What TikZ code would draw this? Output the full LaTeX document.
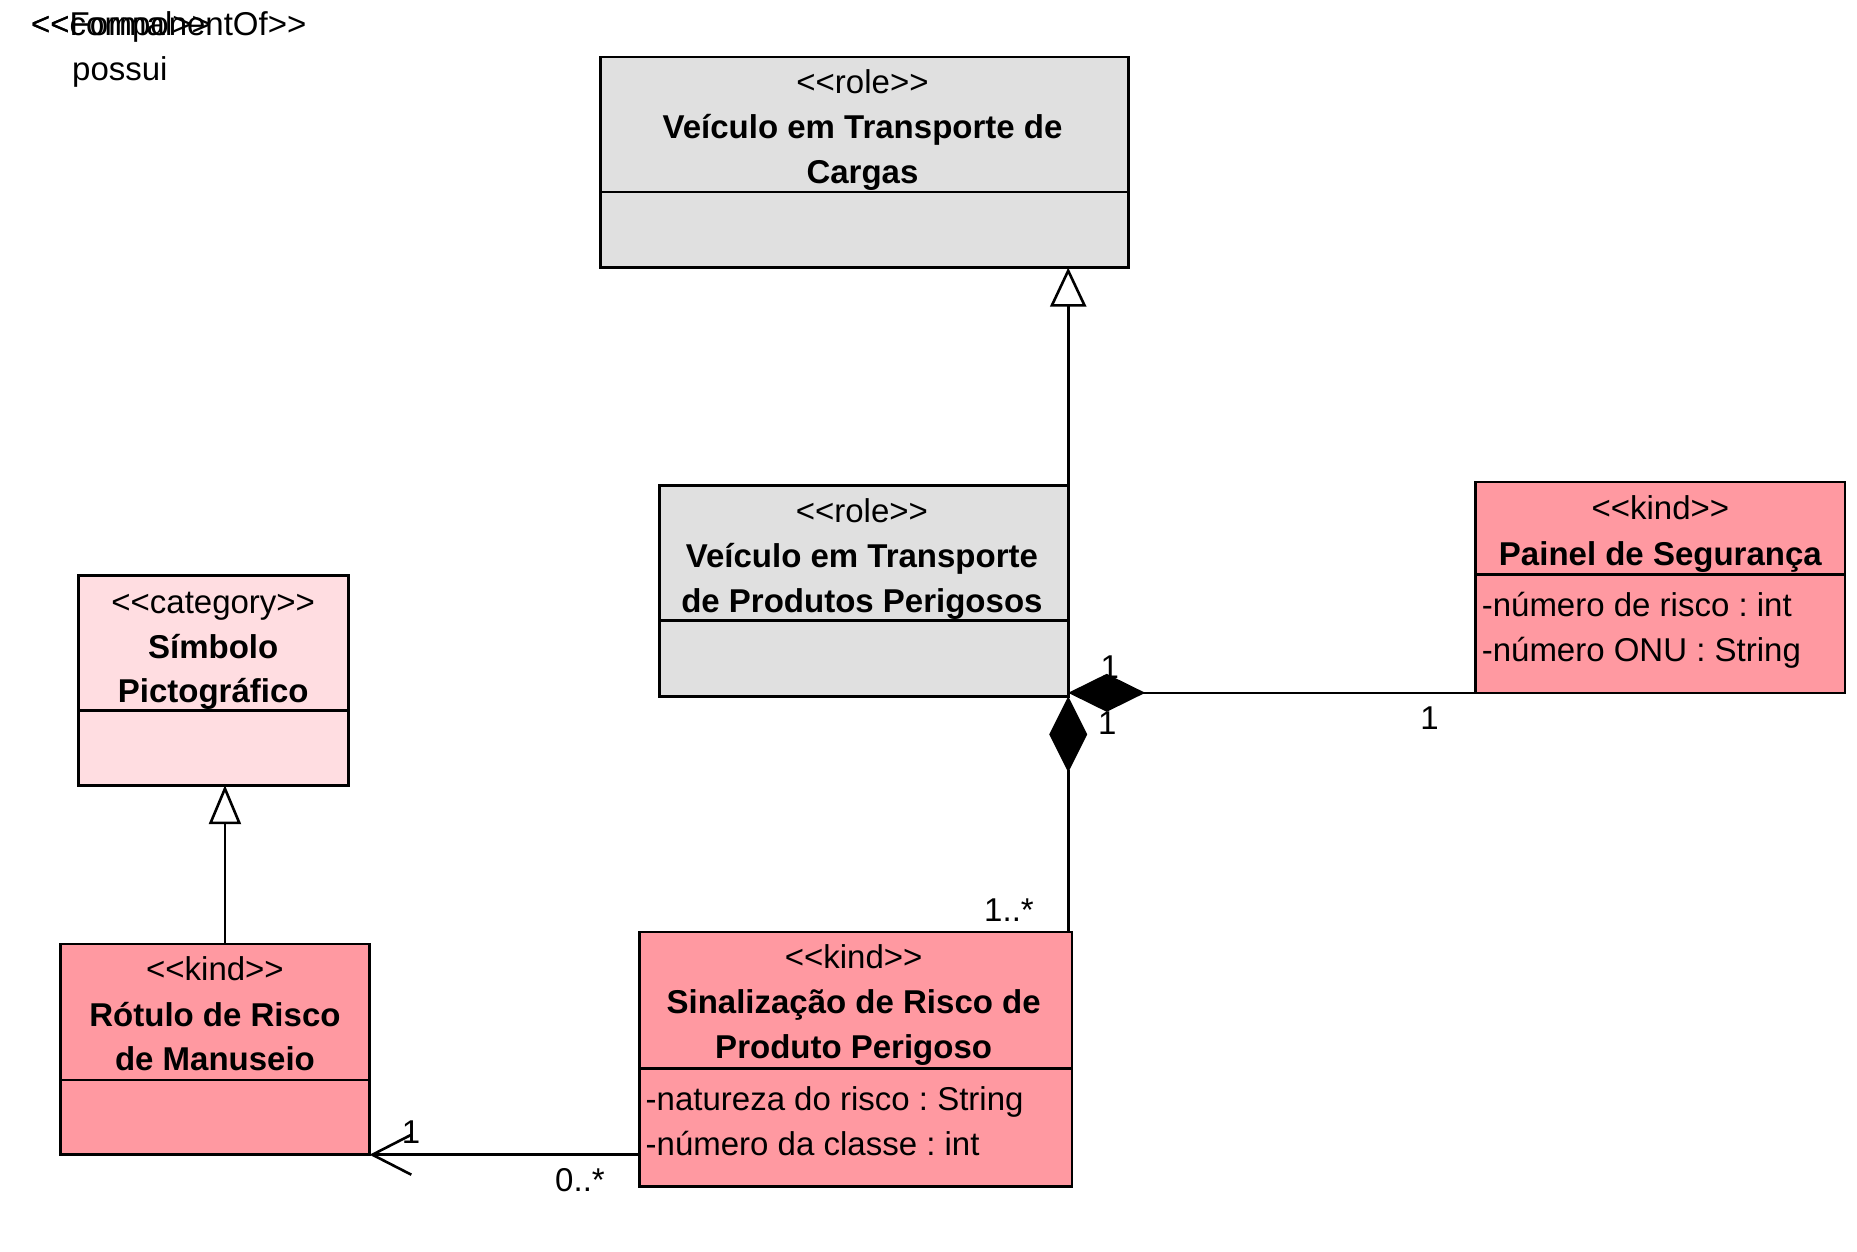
\documentclass[tikz,border=0pt]{standalone}
\usepackage{fontspec}
\setmainfont{Liberation Sans}
\usetikzlibrary{arrows.meta}
\definecolor{grayc}{RGB}{224,224,224}
\definecolor{kindc}{RGB}{255,153,161}
\definecolor{catc}{RGB}{255,221,225}
\newcommand\fs{\fontsize{33}{45}\selectfont\frenchspacing}
\newcommand\stp[1]{<{}<#1>{}>}
\tikzset{
  cls/.style={draw, line width=2.6pt, inner sep=0pt, outer sep=0pt, anchor=north west},
  txt/.style={inner sep=0pt, anchor=base, font=\fs},
  btxt/.style={inner sep=0pt, anchor=base, font=\fs\bfseries},
  attr/.style={inner sep=0pt, anchor=base west, font=\fs},
  conn/.style={line width=2.6pt},
}
\begin{document}
\begin{tikzpicture}[x=1pt,y=-1pt]
\useasboundingbox (0,0) rectangle (1857,1251);
% Box A
\node[cls, fill=grayc, minimum width=528.2pt, minimum height=210.8pt] (A) at (600.4,56.8) {};
\draw[conn] ([yshift=-135.1pt]A.north west) -- ([yshift=-135.1pt]A.north east);
\node[txt] (A1) at ([xshift=-2pt,yshift=-37pt]A.north) {\stp{role}};
\node[btxt] (A2) at ([xshift=-2pt,yshift=-82pt]A.north) {Veículo em Transporte de};
\node[btxt] (A3) at ([xshift=-2pt,yshift=-127pt]A.north) {Cargas};
% Box B
\node[cls, fill=grayc, minimum width=408.6pt, minimum height=210.8pt] (B) at (659.6,485.6) {};
\draw[conn] ([yshift=-135pt]B.north west) -- ([yshift=-135pt]B.north east);
\node[txt] (B1) at ([xshift=-2pt,yshift=-37pt]B.north) {\stp{role}};
\node[btxt] (B2) at ([xshift=-2pt,yshift=-82pt]B.north) {Veículo em Transporte};
\node[btxt] (B3) at ([xshift=-2pt,yshift=-127pt]B.north) {de Produtos Perigosos};
% Box C
\node[cls, fill=kindc, minimum width=369.5pt, minimum height=210.8pt] (C) at (1475.6,482) {};
\draw[conn] ([yshift=-92.4pt]C.north west) -- ([yshift=-92.4pt]C.north east);
\node[txt] (C1) at ([yshift=-37pt]C.north) {\stp{kind}};
\node[btxt] (C2) at ([yshift=-83pt]C.north) {Painel de Segurança};
\node[attr] (C3) at ([xshift=6pt,yshift=-134.4pt]C.north west) {-número de risco : int};
\node[attr] (C4) at ([xshift=6pt,yshift=-179.4pt]C.north west) {-número ONU : String};
% Box D
\node[cls, fill=catc, minimum width=270pt, minimum height=209.6pt] (D) at (78.2,575.6) {};
\draw[conn] ([yshift=-135pt]D.north west) -- ([yshift=-135pt]D.north east);
\node[txt] (D1) at ([yshift=-37.5pt]D.north) {\stp{category}};
\node[btxt] (D2) at ([yshift=-82.5pt]D.north) {Símbolo};
\node[btxt] (D3) at ([yshift=-127pt]D.north) {Pictográfico};
% Box E
\node[cls, fill=kindc, minimum width=309.1pt, minimum height=210.8pt] (E) at (60.4,943.9) {};
\draw[conn] ([yshift=-136.2pt]E.north west) -- ([yshift=-136.2pt]E.north east);
\node[txt] (E1) at ([yshift=-37pt]E.north) {\stp{kind}};
\node[btxt] (E2) at ([yshift=-83pt]E.north) {Rótulo de Risco};
\node[btxt] (E3) at ([yshift=-127pt]E.north) {de Manuseio};
% Box F
\node[cls, fill=kindc, minimum width=432.3pt, minimum height=254.7pt] (F) at (639.5,932) {};
\draw[conn] ([yshift=-136.2pt]F.north west) -- ([yshift=-136.2pt]F.north east);
\node[txt] (F1) at ([xshift=-2pt,yshift=-36pt]F.north) {\stp{kind}};
\node[btxt] (F2) at ([xshift=-2pt,yshift=-81.5pt]F.north) {Sinalização de Risco de};
\node[btxt] (F3) at ([xshift=-2pt,yshift=-126.5pt]F.north) {Produto Perigoso};
\node[attr] (F4) at ([xshift=6pt,yshift=-178.8pt]F.north west) {-natureza do risco : String};
\node[attr] (F5) at ([xshift=6pt,yshift=-223.8pt]F.north west) {-número da classe : int};
% connectors
\draw[conn, -{Triangle[open,length=39pt,width=36pt]}] (B.north east) -- (B.north east |- A.south);
\coordinate (eTop) at ([xshift=10pt]E.north);
\draw[conn, -{Triangle[open,length=39pt,width=32pt]}] (eTop) -- (eTop |- D.south);
\draw[conn, {Diamond[length=77pt,width=38pt]}-] (B.east |- C.south) -- (C.south west);
\draw[conn, {Diamond[length=76pt,width=38pt]}-] (B.south east) -- (B.south east |- F.north);
\draw[conn, -{Straight Barb[length=39pt,width=40pt]}] (F.west |- E.south east) -- (E.south east);
% multiplicities
\node[txt] (m1) at (1109.7,678.6) {1};
\node[txt] (m2) at (1429.5,729.5) {1};
\node[txt] (m3) at (1107.3,734) {1};
\node[txt] (m4) at (1009,921) {1..*};
\node[txt] (m5) at (411,1143) {1};
\node[txt] (m6) at (580,1191) {0..*};
% stray labels
\node[attr] (t1) at (31,35.5) {\stp{componentOf}};
\node[attr] (t2) at (31,35.5) {\stp{Formal}};
\node[attr] (t3) at (72,80.5) {possui};
\end{tikzpicture}
\end{document}
